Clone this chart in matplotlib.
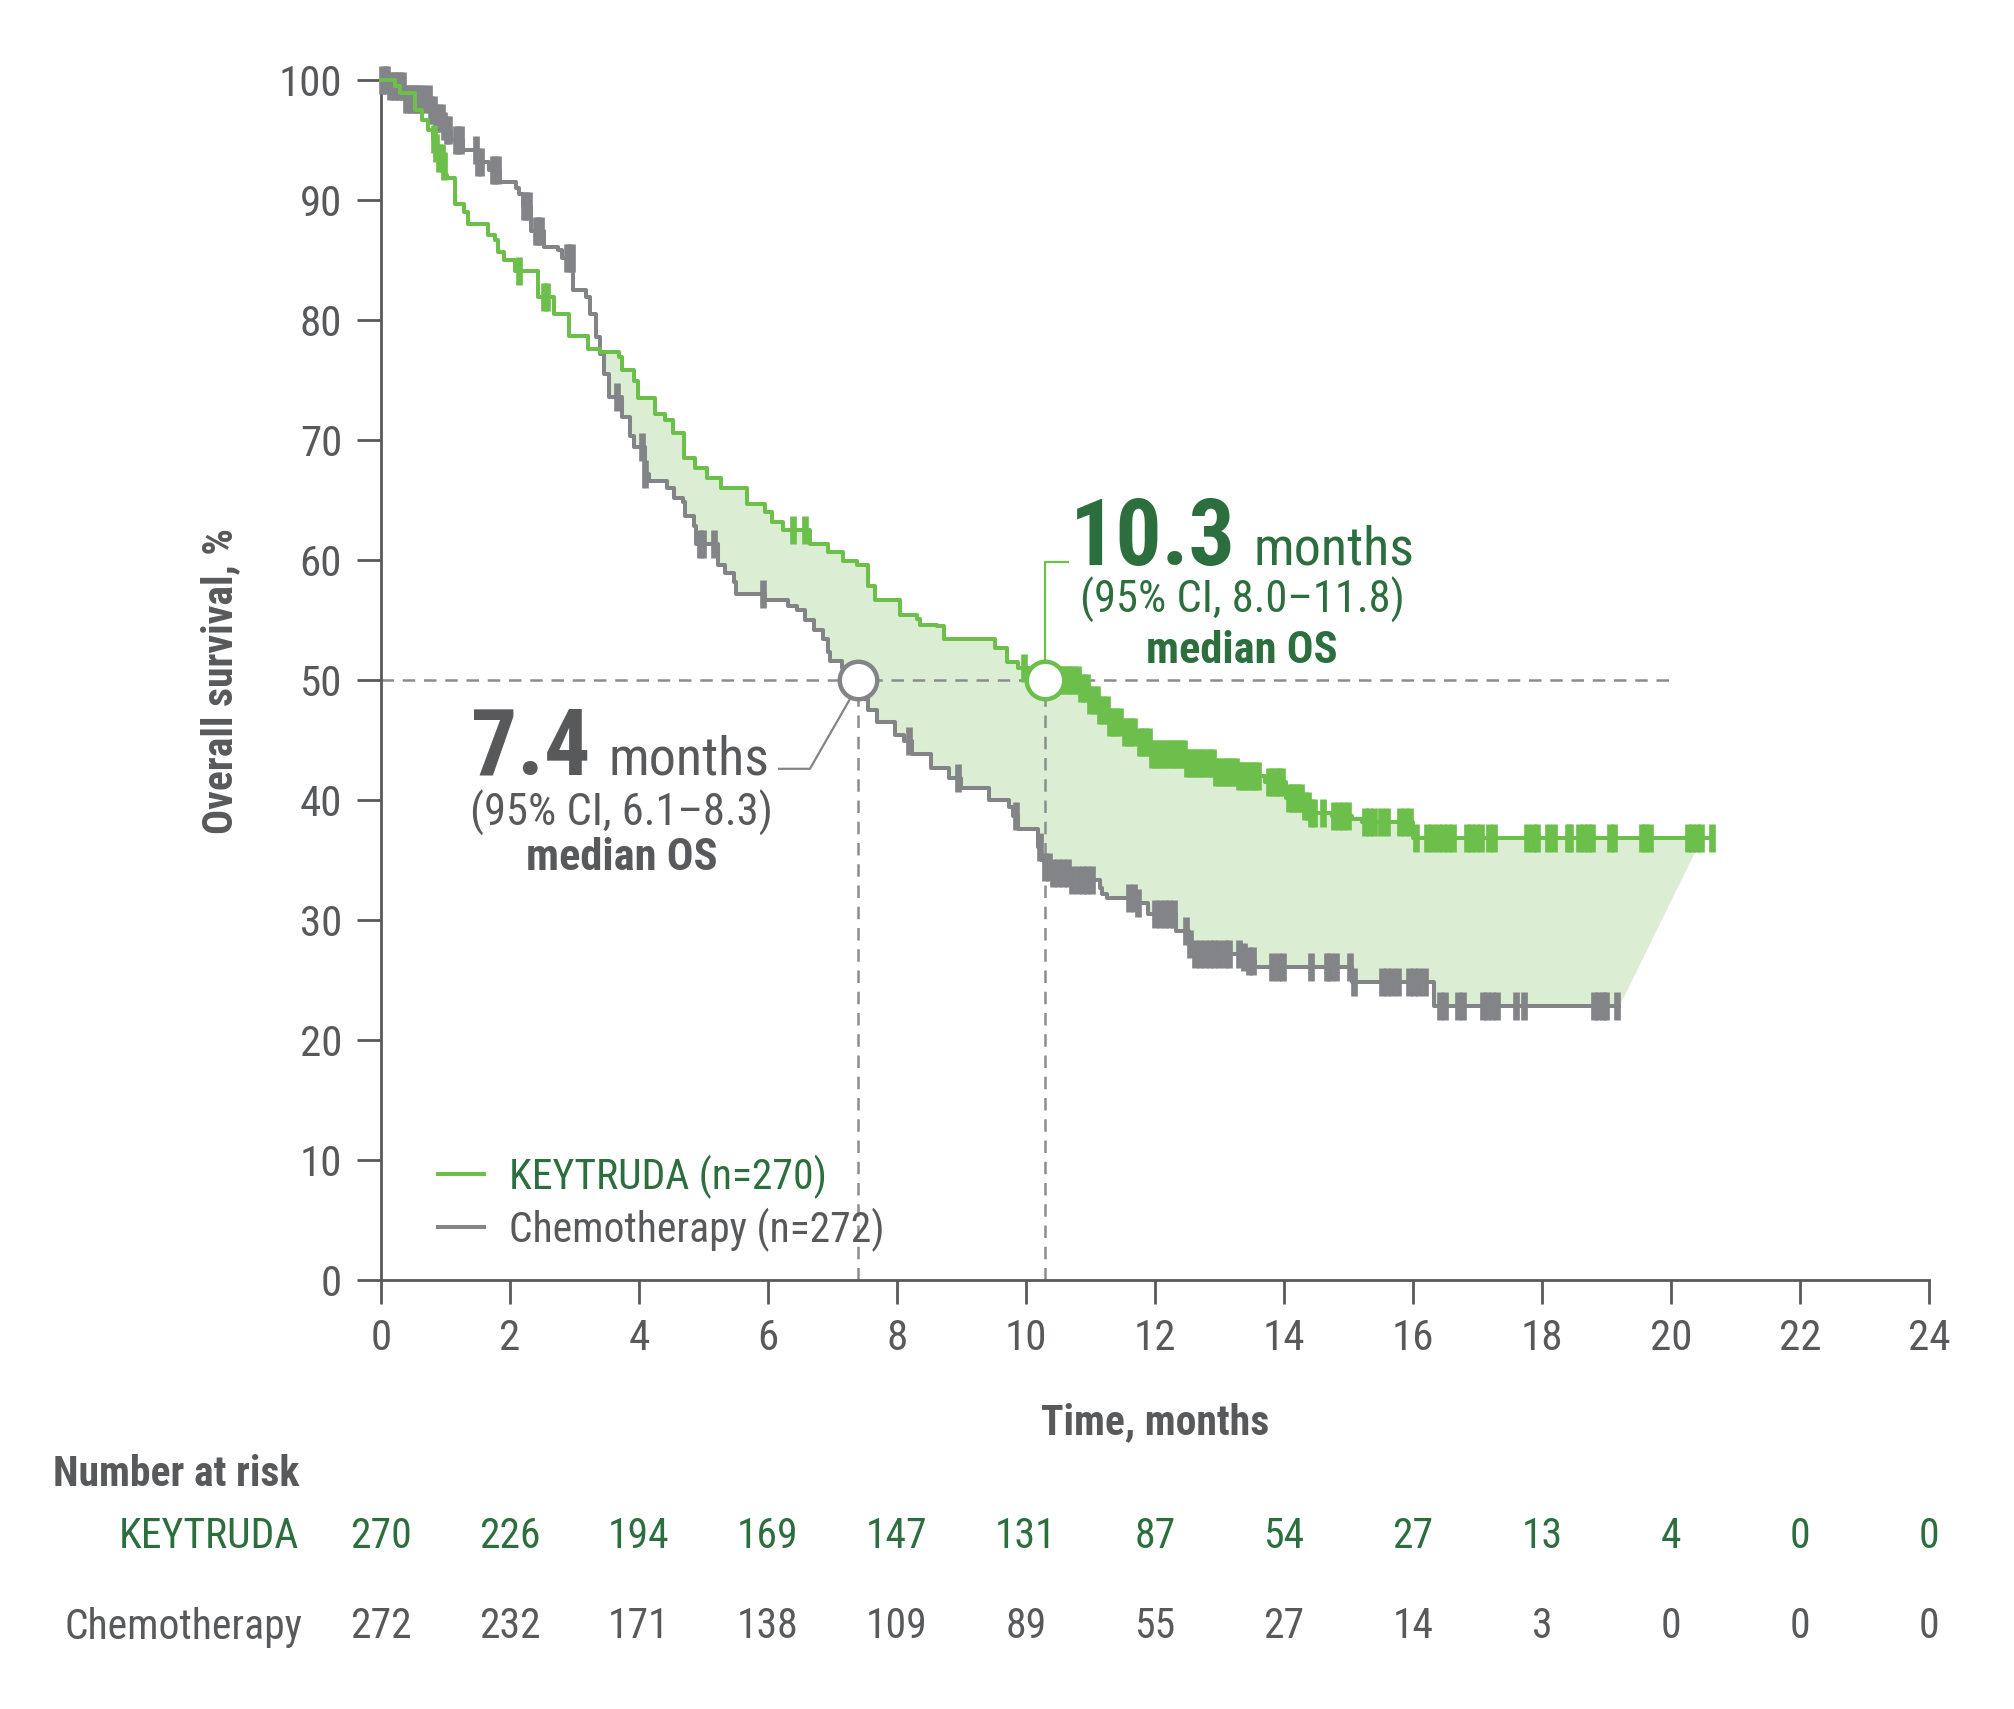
import numpy as np
import matplotlib
matplotlib.use('Agg')
import matplotlib.pyplot as plt
from matplotlib.lines import Line2D

plt.rcParams['font.family'] = ['Roboto Condensed', 'Roboto', 'DejaVu Sans']

# ---------------- data ----------------
key_t = [0, 0.22, 0.29, 0.52, 0.63, 0.73, 0.81, 0.86, 0.90, 0.95,
         0.99, 1.02, 1.15, 1.28, 1.35, 1.66, 1.77, 1.82, 1.91, 2.08,
         2.44, 2.68, 2.91, 3.21, 3.39, 3.69, 3.74, 3.92, 3.98, 4.25,
         4.40, 4.52, 4.69, 4.87, 5.06, 5.27, 5.68, 5.96, 6.06, 6.24,
         6.65, 6.93, 7.17, 7.38, 7.55, 7.66, 8.04, 8.31, 8.35, 8.62,
         8.73, 9.52, 9.70, 9.87, 10.04, 10.3, 10.83, 11.0, 11.12, 11.26,
         11.5, 11.72, 11.94, 12.49, 12.95, 13.3, 13.7, 14.03, 14.3, 14.38,
         14.74, 15.06, 15.21, 16.0]
key_s = [100, 99.5, 98.9, 97.5, 96.7, 95.8, 95.1, 94.3, 93.5, 92.8,
         92.1, 91.8, 89.7, 89.0, 88.0, 87.1, 86.7, 85.7, 85.0, 84.1,
         81.9, 80.5, 78.7, 77.6, 77.3, 76.9, 75.8, 74.9, 73.5, 72.2,
         71.7, 70.6, 68.5, 67.7, 66.8, 66.0, 64.7, 64.0, 63.2, 62.5,
         61.3, 60.7, 59.9, 59.6, 57.8, 56.7, 55.4, 55.1, 54.6, 54.5,
         53.4, 52.7, 51.5, 51.0, 50.4, 50.0, 49.3, 48.3, 47.5, 46.5,
         45.7, 44.8, 43.8, 43.1, 42.3, 42.0, 41.5, 40.2, 39.5, 38.9,
         38.7, 38.4, 38.2, 36.8]
key_end = 20.63
key_cens = [0.82, 0.86, 0.90, 0.94, 0.98, 2.14, 2.53, 2.57, 6.38, 6.58, 9.97,
            10.4, 10.45, 10.5, 10.55, 10.6, 10.65, 10.7, 10.75, 10.8, 10.85,
            10.9, 10.95, 11.0, 11.05, 11.1, 11.15, 11.2, 11.25, 11.3, 11.35,
            11.4, 11.45, 11.53, 11.58, 11.63, 11.68, 11.76, 11.8, 11.85, 11.9,
            11.95, 12.0, 12.05, 12.1, 12.15, 12.2, 12.26, 12.3, 12.35, 12.4,
            12.45, 12.5, 12.55, 12.6, 12.65, 12.7, 12.75, 12.8, 12.85, 12.9,
            12.95, 13.0, 13.05, 13.1, 13.15, 13.2, 13.25, 13.3, 13.35, 13.4,
            13.45, 13.5, 13.55, 13.6, 13.77, 13.82, 13.87, 13.92, 13.97,
            14.07, 14.12, 14.17, 14.22, 14.27, 14.32, 14.37, 14.42, 14.47,
            14.6, 14.78, 14.85, 14.92, 15.0,
            15.25, 15.32, 15.4, 15.5, 15.6, 15.8, 15.88, 15.95, 16.05,
            16.22, 16.3, 16.38, 16.46, 16.54, 16.62, 16.83, 16.9, 16.98, 17.06,
            17.18, 17.26, 17.77, 17.86, 17.93, 18.1, 18.18, 18.4, 18.44,
            18.58, 18.65, 18.72, 18.78, 19.05, 19.12,
            19.55, 19.6, 19.68, 20.27, 20.33, 20.4, 20.47, 20.63]

chemo_t = [0, 0.12, 0.35, 0.75, 0.85, 0.95, 1.00, 1.08, 1.27, 1.50,
           1.68, 1.84, 2.10, 2.14, 2.20, 2.33, 2.52, 2.75, 2.80, 2.98,
           3.18, 3.24, 3.33, 3.39, 3.45, 3.54, 3.74, 3.86, 3.92, 4.09,
           4.16, 4.44, 4.55, 4.68, 4.71, 4.85, 4.89, 5.23, 5.34, 5.48,
           5.51, 5.96, 6.31, 6.45, 6.58, 6.72, 6.86, 6.93, 6.96, 7.14,
           7.4, 7.48, 7.55, 7.69, 7.97, 8.11, 8.24, 8.52, 8.80, 9.0,
           9.42, 9.73, 9.80, 9.87, 10.19, 10.23, 10.29, 10.39, 10.71, 11.14,
           11.18, 11.26, 11.73, 11.89, 12.33, 12.53, 12.6, 13.32, 13.44, 13.55,
           15.06, 16.32]
chemo_s = [100, 99.5, 98.4, 97.5, 96.8, 96.2, 95.8, 95.0, 94.2, 93.2,
           92.5, 91.5, 91.0, 90.5, 89.5, 87.4, 86.1, 85.8, 85.2, 82.5,
           81.9, 80.5, 78.6, 77.2, 75.5, 73.6, 71.9, 70.3, 69.4, 67.2,
           66.6, 66.0, 65.2, 64.8, 63.7, 62.8, 61.3, 59.6, 58.9, 58.2,
           57.2, 56.7, 56.2, 55.8, 55.0, 54.2, 53.4, 52.3, 51.6, 51.0,
           50.0, 48.4, 47.5, 46.5, 45.4, 44.9, 43.8, 42.7, 41.8, 41.0,
           40.0, 39.4, 38.7, 37.6, 36.1, 35.0, 34.4, 33.9, 33.3, 32.7,
           32.2, 31.8, 31.4, 30.5, 29.1, 28.0, 27.2, 26.9, 26.6, 26.1,
           24.8, 22.8]
chemo_end = 19.2
chemo_cens = [0.02, 0.06, 0.10, 0.14, 0.18, 0.22, 0.26, 0.30, 0.34, 0.38,
              0.42, 0.46, 0.50, 0.54, 0.58, 0.62, 0.66,
              0.74, 0.78, 0.82, 0.86, 0.90, 0.94, 0.98, 1.02, 1.06,
              1.16, 1.20, 1.24, 1.47, 1.51, 1.55, 1.73, 1.77, 1.81,
              2.21, 2.25, 2.29, 2.40, 2.44, 2.48, 2.88, 2.92, 2.96,
              3.66, 4.04, 4.10, 4.95, 5.0, 5.16,
              5.93, 8.18, 8.94, 9.84, 10.21, 10.3, 10.35, 10.42, 10.5, 10.58, 10.65,
              10.72, 10.8, 10.88, 10.95, 11.02,
              11.6, 11.68, 11.74, 12.0, 12.08, 12.15, 12.22, 12.3, 12.48, 12.55,
              12.62, 12.7, 12.78, 12.85, 12.92, 13.0, 13.08, 13.15, 13.3, 13.38,
              13.45, 13.52, 13.82, 13.9, 13.98, 14.42, 14.66, 14.72, 14.8, 15.02,
              15.08, 15.52, 15.6, 15.68, 15.76, 15.94, 16.02, 16.1, 16.18, 16.42,
              16.5, 16.7, 16.77, 17.08, 17.15, 17.22, 17.3, 17.6, 17.72,
              18.8, 18.87, 18.94, 19.0, 19.17]

median_key = 10.3
median_chemo = 7.4

risk_times = [0, 2, 4, 6, 8, 10, 12, 14, 16, 18, 20, 22, 24]
risk_key = [270, 226, 194, 169, 147, 131, 87, 54, 27, 13, 4, 0, 0]
risk_chemo = [272, 232, 171, 138, 109, 89, 55, 27, 14, 3, 0, 0, 0]

x_ticks = [0, 2, 4, 6, 8, 10, 12, 14, 16, 18, 20, 22, 24]
y_ticks = [0, 10, 20, 30, 40, 50, 60, 70, 80, 90, 100]

# ---------------- styles ----------------
GREEN = '#6cbf4a'
DKGREEN = '#2d6e3e'
GRAY = '#838487'
TXT = '#58595b'
FILL = '#dbeed3'
DASH = '#8c8c8c'
FS = 30
LW = 2.9

W, H = 2015, 1709
fig = plt.figure(figsize=(W / 100, H / 100), dpi=100)
ax = fig.add_axes([381 / W, (H - 1280) / H, 1548 / W, 1200 / H])
ax.set_xlim(0, 24)
ax.set_ylim(0, 100)


def step_val(t, s, x):
    idx = np.searchsorted(np.asarray(t), np.asarray(x), side='right') - 1
    return np.asarray(s)[idx]


def step_vertices(t, s, a, b):
    t = np.asarray(t, float)
    s = np.asarray(s, float)
    xs = [a]
    ys = [float(step_val(t, s, a))]
    for ti, si in zip(t, s):
        if a < ti <= b:
            xs += [ti, ti]
            ys += [ys[-1], si]
    xs.append(b)
    ys.append(ys[-1])
    return xs, ys


# fill between the curves (one polygon, KEYTRUDA above chemo)
grid = np.unique(np.concatenate([key_t, chemo_t]))
kv = step_val(key_t, key_s, grid)
cv = step_val(chemo_t, chemo_s, grid)
start = grid[np.argmax((kv > cv) & (grid > 2))]
gx, gy = step_vertices(key_t, key_s, start, key_end - 0.15)
cx, cy = step_vertices(chemo_t, chemo_s, start, chemo_end)
ax.fill(gx + cx[::-1], gy + cy[::-1], color=FILL, lw=0, zorder=1)

# dashed median guides
dash = (0, (5, 3.5))
ax.plot([0, 20], [50, 50], color=DASH, lw=1.8, ls=dash, zorder=2)
ax.plot([median_chemo, median_chemo], [0, 50], color=DASH, lw=1.8, ls=dash, zorder=2)
ax.plot([median_key, median_key], [0, 50], color=DASH, lw=1.8, ls=dash, zorder=2)

# KM curves
ax.step(list(chemo_t) + [chemo_end], list(chemo_s) + [chemo_s[-1]], where='post',
        color=GRAY, lw=LW, zorder=3, clip_on=False)
ax.step(list(key_t) + [key_end], list(key_s) + [key_s[-1]], where='post',
        color=GREEN, lw=LW, zorder=4, clip_on=False)

# censor marks
ax.plot(chemo_cens, step_val(chemo_t, chemo_s, chemo_cens), ls='none', marker='|',
        ms=20, mew=4.8, color=GRAY, zorder=3, clip_on=False)
ax.plot(key_cens, step_val(key_t, key_s, key_cens), ls='none', marker='|',
        ms=20, mew=4.8, color=GREEN, zorder=4, clip_on=False)

# leader lines
ax.plot([median_key, median_key, 10.65], [51.6, 59.8, 59.8], color=GREEN, lw=1.6, zorder=5)
ax.plot([median_chemo - 0.12, 6.65, 6.17], [48.5, 42.6, 42.6], color=GRAY, lw=1.6, zorder=5)

# median circles
ax.plot([median_key], [50], marker='o', ms=27, mfc='white', mec=GREEN, mew=3.2, zorder=6)
ax.plot([median_chemo], [50], marker='o', ms=27, mfc='white', mec=GRAY, mew=3.2, zorder=6)

# annotations
ax.text(13.25, 59.6, '10.3', ha='right', va='baseline', fontsize=66, fontweight='bold', color=DKGREEN)
ax.text(13.53, 59.6, 'months', ha='left', va='baseline', fontsize=39, color=DKGREEN)
ax.text(13.35, 56.7, '(95% CI, 8.0\u201311.8)', ha='center', va='center', fontsize=32, color=DKGREEN)
ax.text(13.35, 52.4, 'median OS', ha='center', va='center', fontsize=32, fontweight='bold', color=DKGREEN)

ax.text(3.25, 42.1, '7.4', ha='right', va='baseline', fontsize=66, fontweight='bold', color=TXT)
ax.text(3.53, 42.1, 'months', ha='left', va='baseline', fontsize=39, color=TXT)
ax.text(3.73, 38.9, '(95% CI, 6.1\u20138.3)', ha='center', va='center', fontsize=32, color=TXT)
ax.text(3.73, 35.2, 'median OS', ha='center', va='center', fontsize=32, fontweight='bold', color=TXT)

# legend
handles = [Line2D([], [], color=GREEN, lw=LW), Line2D([], [], color=GRAY, lw=LW)]
ax.legend(handles, ['KEYTRUDA (n=270)', 'Chemotherapy (n=272)'], loc='center left',
          bbox_to_anchor=(0.037, 0.064), frameon=False, fontsize=FS,
          labelcolor=[DKGREEN, TXT], handlelength=1.1, handletextpad=0.6,
          labelspacing=0.22, borderpad=0, borderaxespad=0)

# axes styling
for side in ['top', 'right']:
    ax.spines[side].set_visible(False)
for side in ['left', 'bottom']:
    ax.spines[side].set_color(TXT)
    ax.spines[side].set_linewidth(2)
ax.set_xticks(x_ticks)
ax.set_yticks(y_ticks)
ax.tick_params(length=17, width=2, color=TXT, labelsize=31, labelcolor=TXT)
ax.tick_params(axis='x', pad=10)
ax.tick_params(axis='y', pad=11)

fig.text(221 / W, 1 - 681 / H, 'Overall survival, %', rotation=90, ha='center', va='center',
         fontsize=FS, fontweight='bold', color=TXT)
fig.text(1155 / W, 1 - 1423 / H, 'Time, months', ha='center', va='center',
         fontsize=FS, fontweight='bold', color=TXT)

# number at risk table
fig.text(299 / W, 1 - 1475 / H, 'Number at risk', ha='right', va='center',
         fontsize=FS, fontweight='bold', color=TXT)
fig.text(299 / W, 1 - 1537 / H, 'KEYTRUDA', ha='right', va='center', fontsize=FS, color=DKGREEN)
fig.text(303 / W, 1 - 1627 / H, 'Chemotherapy', ha='right', va='center', fontsize=FS, color=TXT)
trans = matplotlib.transforms.blended_transform_factory(ax.transData, fig.transFigure)
for t, k, c in zip(risk_times, risk_key, risk_chemo):
    fig.text(t, 1 - 1537 / H, str(k), ha='center', va='center', fontsize=FS, color=DKGREEN,
             transform=trans)
    fig.text(t, 1 - 1627 / H, str(c), ha='center', va='center', fontsize=FS, color=TXT,
             transform=trans)

fig.savefig('out.png', dpi=100, facecolor='white')
